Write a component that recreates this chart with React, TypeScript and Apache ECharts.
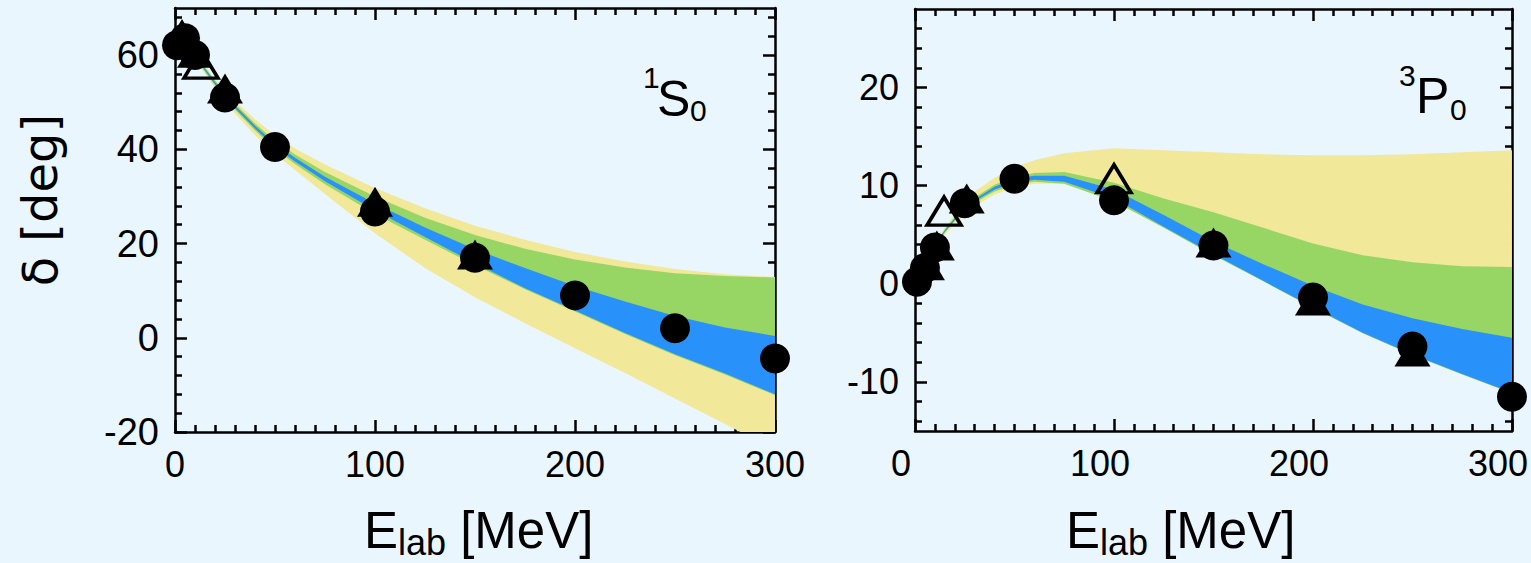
import React, { useEffect, useRef } from "react";
import * as echarts from "echarts";

// ---------------- data ----------------
const X_MAJOR = [0, 100, 200, 300];
const X_MINOR = [10, 20, 30, 40, 50, 60, 70, 80, 90, 110, 120, 130, 140, 150, 160, 170, 180, 190, 210, 220, 230, 240, 250, 260, 270, 280, 290];

const L_Y_MAJOR = [-20, 0, 20, 40, 60];
const L_Y_MINOR = [-16, -12, -8, -4, 4, 8, 12, 16, 24, 28, 32, 36, 44, 48, 52, 56, 64, 68];
const R_Y_MAJOR = [-10, 0, 10, 20];
const R_Y_MINOR = [-14, -12, -8, -6, -4, -2, 2, 4, 6, 8, 12, 14, 16, 18, 22, 24, 26];

// 1S0 bands
const L_E = [10, 20, 30, 40, 50, 60, 75, 100, 125, 150, 175, 200, 225, 250, 275, 300];
const L_YELLOW_LO = [59.0, 53.0, 47.6, 43.0, 39.0, 35.6, 30.5, 22.2, 14.8, 8.6, 3.1, -2.2, -7.5, -12.9, -18.3, -23.8];
const L_YELLOW_HI = [60.5, 55.0, 50.3, 46.4, 43.0, 40.2, 36.8, 31.8, 27.5, 23.8, 20.8, 18.2, 16.2, 14.6, 13.5, 12.9];
const L_GREEN_LO = [59.4, 53.5, 48.4, 44.0, 40.0, 36.9, 32.6, 26.3, 20.8, 15.4, 10.3, 5.6, 0.8, -3.7, -7.8, -12.2];
const L_GREEN_HI = [60.2, 54.6, 49.7, 45.5, 41.8, 38.9, 35.2, 30.0, 25.5, 21.8, 18.9, 16.6, 14.9, 13.7, 13.1, 12.8];
const L_BLUE_LO = [59.6, 53.8, 48.8, 44.4, 40.5, 37.4, 33.2, 27.0, 21.4, 15.8, 10.5, 5.8, 1.0, -3.5, -7.6, -12.0];
const L_BLUE_HI = [60.0, 54.3, 49.3, 45.0, 41.2, 38.2, 34.2, 28.5, 23.4, 18.8, 14.8, 11.0, 7.7, 4.6, 2.2, 0.4];

// 3P0 bands
const R_E = [0, 5, 10, 15, 20, 25, 30, 40, 50, 60, 75, 100, 125, 150, 175, 200, 225, 250, 275, 300];
const R_YELLOW_LO = [0, 1.8, 3.7, 5.0, 6.1, 7.0, 7.9, 9.1, 9.8, 10.2, 10.2, 8.4, 5.7, 2.9, 0.25, -2.45, -5.05, -7.25, -9.25, -11.15];
const R_YELLOW_HI = [0, 2.1, 4.1, 5.7, 7.1, 8.3, 9.4, 10.8, 11.9, 12.6, 13.3, 13.8, 13.6, 13.4, 13.2, 13.1, 13.1, 13.2, 13.4, 13.6];
const R_GREEN_LO = [0, 1.85, 3.8, 5.2, 6.4, 7.35, 8.25, 9.4, 10.1, 10.4, 10.2, 8.4, 5.7, 2.9, 0.25, -2.45, -5.05, -7.25, -9.25, -11.15];
const R_GREEN_HI = [0, 2.05, 4.0, 5.55, 6.8, 7.85, 8.8, 10.1, 10.9, 11.3, 11.4, 10.3, 8.7, 7.3, 5.7, 4.1, 2.9, 2.2, 1.8, 1.7];
const R_BLUE_LO = [0, 1.9, 3.85, 5.3, 6.5, 7.5, 8.4, 9.6, 10.3, 10.6, 10.4, 8.7, 5.8, 3.0, 0.3, -2.4, -5.0, -7.2, -9.2, -11.1];
const R_BLUE_HI = [0, 2.0, 3.95, 5.45, 6.7, 7.7, 8.6, 9.9, 10.7, 11.0, 11.0, 9.6, 7.0, 4.3, 2.0, -0.2, -2.1, -3.5, -4.6, -5.5];

// markers 1S0
const L_CIRC_E = [1, 5, 10, 25, 50, 100, 150, 200, 250, 300];
const L_CIRC_D = [62.1, 63.6, 60.0, 51.0, 40.5, 26.8, 17.0, 9.0, 2.0, -4.4];
const L_TRI_E = [3.5, 10, 25, 100, 150];
const L_TRI_D = [64.5, 60.5, 52.9, 28.9, 17.7];
const L_OTRI_E = [13];
const L_OTRI_D = [58.1];

// markers 3P0
const R_CIRC_E = [1, 5, 10, 25, 50, 100, 150, 200, 250, 300];
const R_CIRC_D = [0.2, 1.6, 3.7, 8.2, 10.7, 8.5, 3.9, -1.4, -6.4, -11.5];
const R_TRI_E = [6, 11, 26, 150, 200, 250];
const R_TRI_D = [1.9, 3.9, 8.7, 4.2, -1.7, -6.9];
const R_OTRI_E = [14.6, 100];
const R_OTRI_D = [7.4, 10.7];

// ---------------- styling ----------------
const BG = "#EAF6FE";
const YELLOW = "#F1E89A";
const GREEN = "#97D664";
const BLUE = "#2892FA";
const FONT = "'Liberation Sans', Arial, sans-serif";
const LINE = { color: "#000", width: 2.5 };

const zip = (xs: number[], ys: number[]) => xs.map((x, i) => [x, ys[i]]);

function xAxes(g: number, padRight: number) {
  const base = { gridIndex: g, type: "value", min: 0, max: 300, splitLine: { show: false } };
  return [
    {
      ...base, position: "bottom",
      axisLine: { show: true, onZero: false, lineStyle: LINE },
      axisTick: { show: true, inside: true, length: 12, customValues: X_MAJOR, lineStyle: LINE },
      axisLabel: { show: true, customValues: X_MAJOR, margin: 14, fontSize: 36, fontFamily: FONT, color: "#000", padding: [0, padRight, 0, 0] },
    },
    {
      ...base, position: "bottom",
      axisLine: { show: false, onZero: false },
      axisTick: { show: true, inside: true, length: 7, customValues: X_MINOR, lineStyle: LINE },
      axisLabel: { show: false },
    },
    {
      ...base, position: "top",
      axisLine: { show: true, onZero: false, lineStyle: LINE },
      axisTick: { show: true, inside: true, length: 12, customValues: X_MAJOR, lineStyle: LINE },
      axisLabel: { show: false },
    },
    {
      ...base, position: "top",
      axisLine: { show: false, onZero: false },
      axisTick: { show: true, inside: true, length: 7, customValues: X_MINOR, lineStyle: LINE },
      axisLabel: { show: false },
    },
  ];
}

function yAxes(g: number, min: number, max: number, major: number[], minor: number[], fs: number) {
  const base = { gridIndex: g, type: "value", min, max, splitLine: { show: false } };
  return [
    {
      ...base, position: "left",
      axisLine: { show: true, onZero: false, lineStyle: LINE },
      axisTick: { show: true, inside: true, length: 12, customValues: major, lineStyle: LINE },
      axisLabel: { show: true, customValues: major, margin: 16, fontSize: fs, fontFamily: FONT, color: "#000" },
    },
    {
      ...base, position: "left",
      axisLine: { show: false, onZero: false },
      axisTick: { show: true, inside: true, length: 7, customValues: minor, lineStyle: LINE },
      axisLabel: { show: false },
    },
    {
      ...base, position: "right",
      axisLine: { show: true, onZero: false, lineStyle: LINE },
      axisTick: { show: true, inside: true, length: 12, customValues: major, lineStyle: LINE },
      axisLabel: { show: false },
    },
    {
      ...base, position: "right",
      axisLine: { show: false, onZero: false },
      axisTick: { show: true, inside: true, length: 7, customValues: minor, lineStyle: LINE },
      axisLabel: { show: false },
    },
  ];
}

// A band is one filled polygon: upper edge left->right, then lower edge right->left.
function band(name: string, axis: number, es: number[], lo: number[], hi: number[], color: string, z: number) {
  return {
    type: "custom",
    name,
    xAxisIndex: axis,
    yAxisIndex: axis,
    clip: true,
    silent: true,
    z,
    data: [[es[0], lo[0]]],
    renderItem: (_params: any, api: any) => {
      const top = es.map((e, i) => api.coord([e, hi[i]]));
      const bot = es.map((e, i) => api.coord([e, lo[i]])).reverse();
      return { type: "polygon", shape: { points: top.concat(bot) }, style: { fill: color, stroke: null } };
    },
  };
}

function markers(axis: number, cE: number[], cD: number[], tE: number[], tD: number[], oE: number[], oD: number[]) {
  return [
    {
      type: "scatter", xAxisIndex: axis, yAxisIndex: axis, z: 5, silent: true,
      symbol: "triangle", symbolSize: [34, 28], data: zip(oE, oD),
      itemStyle: { color: "rgba(0,0,0,0)", borderColor: "#000", borderWidth: 3.5, opacity: 1 },
    },
    {
      type: "scatter", xAxisIndex: axis, yAxisIndex: axis, z: 6, silent: true,
      symbol: "triangle", symbolSize: [36, 30], data: zip(tE, tD),
      itemStyle: { color: "#000", opacity: 1 },
    },
    {
      type: "scatter", xAxisIndex: axis, yAxisIndex: axis, z: 7, silent: true,
      symbol: "circle", symbolSize: 30, data: zip(cE, cD),
      itemStyle: { color: "#000", opacity: 1 },
    },
  ];
}

function txt(text: string, x: number, y: number, size: number, family = FONT, extra: any = {}) {
  return {
    type: "text", x, y, silent: true, ...extra,
    style: { text, fontSize: size, fontFamily: family, fill: "#000", align: extra.align || "left", verticalAlign: "middle" },
  };
}

export default function App() {
  const ref = useRef<HTMLDivElement>(null);
  useEffect(() => {
    if (!ref.current) return;
    const chart = echarts.init(ref.current, undefined, { renderer: "svg" });
    const option: any = {
      animation: false,
      backgroundColor: BG,
      grid: [
        { left: 175, top: 8, width: 600, height: 424 },
        { left: 915, top: 9, width: 597, height: 422 },
      ],
      xAxis: [...xAxes(0, 0), ...xAxes(1, 28)],
      yAxis: [...yAxes(0, -20, 70, L_Y_MAJOR, L_Y_MINOR, 38), ...yAxes(1, -15, 28, R_Y_MAJOR, R_Y_MINOR, 36)],
      series: [
        band("1S0 yellow", 0, L_E, L_YELLOW_LO, L_YELLOW_HI, YELLOW, 1),
        band("1S0 green", 0, L_E, L_GREEN_LO, L_GREEN_HI, GREEN, 2),
        band("1S0 blue", 0, L_E, L_BLUE_LO, L_BLUE_HI, BLUE, 3),
        ...markers(0, L_CIRC_E, L_CIRC_D, L_TRI_E, L_TRI_D, L_OTRI_E, L_OTRI_D),
        band("3P0 yellow", 4, R_E, R_YELLOW_LO, R_YELLOW_HI, YELLOW, 1),
        band("3P0 green", 4, R_E, R_GREEN_LO, R_GREEN_HI, GREEN, 2),
        band("3P0 blue", 4, R_E, R_BLUE_LO, R_BLUE_HI, BLUE, 3),
        ...markers(4, R_CIRC_E, R_CIRC_D, R_TRI_E, R_TRI_D, R_OTRI_E, R_OTRI_D),
      ],
      graphic: [
        txt("δ [deg]", 40, 200, 48, "'DejaVu Sans', sans-serif", { rotation: Math.PI / 2, align: "center" }),
        // left x title
        txt("E", 364, 530, 51),
        txt("lab", 398, 542, 36),
        txt(" [MeV]", 446, 530, 51),
        // right x title
        txt("E", 1066, 530, 51),
        txt("lab", 1100, 542, 36),
        txt(" [MeV]", 1148, 530, 51),
        // panel labels
        txt("1", 643, 77, 30),
        txt("S", 657, 99, 50),
        txt("0", 690, 110, 30),
        txt("3", 1399, 75, 30),
        txt("P", 1416, 96, 50),
        txt("0", 1450, 109, 30),
      ],
    };
    chart.setOption(option);
    return () => chart.dispose();
  }, []);
  return (
    <div
      ref={ref}
      style={{ position: "fixed", left: 0, top: 0, width: 1531, height: 563, background: BG }}
    />
  );
}
